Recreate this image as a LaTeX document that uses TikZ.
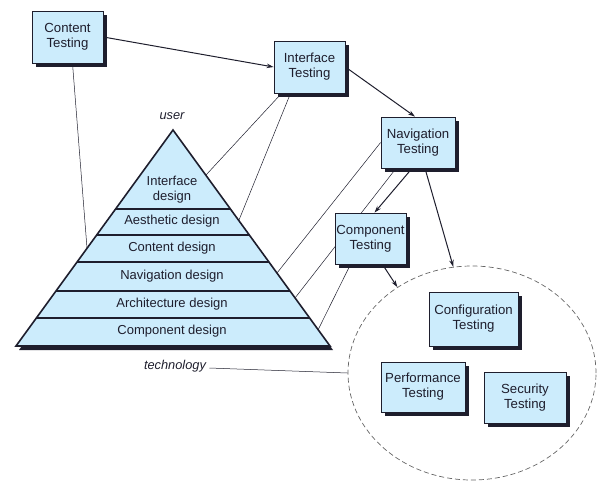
\documentclass[tikz,border=0pt]{standalone}
\usepackage{fontspec}
\setmainfont{Liberation Sans}
\usetikzlibrary{arrows.meta,shadows,shapes.geometric}
\pgfdeclarelayer{back}
\pgfsetlayers{back,main}
\definecolor{boxblue}{RGB}{204,236,252}
\definecolor{ink}{RGB}{30,30,45}

\begin{document}
\begin{tikzpicture}[x=1pt,y=-1pt,
		testbox/.style={draw=ink,fill=boxblue,line width=0.8pt,align=center,inner sep=1pt,text=ink,
			font=\fontsize{13.2}{15}\selectfont,
			general shadow={fill=ink,shadow xshift=4pt,shadow yshift=-4pt}},
		layertext/.style={text=ink,align=center,font=\fontsize{13}{15}\selectfont},
		arr/.style={ink,line width=1pt,-{Stealth[length=7pt,width=4.5pt]}},
		link/.style={ink,line width=0.5pt}]
				\useasboundingbox (0,0) rectangle (609,493);
				% technology circle
				\node[ellipse,draw=gray!80!black,line width=0.7pt,dash pattern=on 5pt off 3pt,inner sep=0pt,
					minimum width=248pt,minimum height=214pt] (tech) at (472,373) {};
				% testing boxes
				\node[testbox,minimum width=71pt,minimum height=52pt] (content) at (67.5,37) {Content\\Testing};
				\node[testbox,minimum width=71pt,minimum height=52pt] (iface) at (309.5,67) {Interface\\Testing};
				\node[testbox,minimum width=74pt,minimum height=51pt] (nav) at (418,142.5) {Navigation\\Testing};
				\node[testbox,minimum width=71pt,minimum height=51pt] (comp) at (370.5,238.5) {Component\\Testing};
				\node[testbox,minimum width=89pt,minimum height=54pt] (config) at (473.5,319) {Configuration\\Testing};
				\node[testbox,minimum width=84pt,minimum height=50pt] (perf) at (423,387) {Performance\\Testing};
				\node[testbox,minimum width=82pt,minimum height=51pt] (secur) at (525,397.5) {Security\\Testing};
				% pyramid
				\coordinate (apex) at (173,130);
				\coordinate (baseL) at (16,346);
				\coordinate (baseR) at (330,346);
				\fill[ink] ([shift={(3,4)}]apex) -- ([shift={(3,4)}]baseL) -- ([shift={(3,4)}]baseR) -- cycle;
				\draw[ink,fill=boxblue,line width=1.6pt,line join=miter] (apex) -- (baseL) -- (baseR) -- cycle;
				\foreach \y in {209,235,262,291,318}
					\draw[ink,line width=1.6pt] ({173-(\y-130)*0.7269},\y) -- ({173+(\y-130)*0.7269},\y);
				\node[layertext] (ldesign) at (172,190) {Interface\\design};
				\node[layertext] (adesign) at (172,221) {Aesthetic design};
				\node[layertext] (cdesign) at (172,248) {Content design};
				\node[layertext] (ndesign) at (172,276) {Navigation design};
				\node[layertext] (rdesign) at (172,304) {Architecture design};
				\node[layertext] (mdesign) at (172,331) {Component design};
				\node[layertext,font=\fontsize{12.8}{15}\selectfont\itshape] (user) at (172,116) {user};
				\node[layertext,font=\fontsize{12.8}{15}\selectfont\itshape] (techlbl) at (175,366) {technology};
				% points on the pyramid sides
				\coordinate (pContent) at (87,248);
				\coordinate (pIface) at (206,175);
				\coordinate (pAesth) at (239,220);
				\coordinate (pNav) at (277,273);
				\coordinate (pArch) at (295,298);
				\coordinate (pComp) at (318,330);
				\begin{pgfonlayer}{back}
				\draw[link] ([xshift=5pt]content.south) -- (pContent);
				\draw[link] ([xshift=-28pt]iface.south) -- (pIface);
				\draw[link] ([xshift=-19pt]iface.south) -- (pAesth);
				\draw[link] (nav.west) -- (pNav);
				\draw[link] ([xshift=-22pt]nav.south) -- (pArch);
				\draw[link] ([xshift=-20pt]comp.south) -- (pComp);
				\end{pgfonlayer}
				\draw[link] ([yshift=-2pt]techlbl.east) -- (tech.west);
				% flow of testing
				\draw[arr] (content.east) -- (iface.west);
				\draw[arr] (iface.east) -- ([xshift=-3pt]nav.north);
				\draw[arr] ([xshift=-6pt]nav.south) -- ([xshift=4pt]comp.north);
				\draw[arr] ([xshift=7pt]nav.south) -- (tech.100);
				\draw[arr] ([xshift=12pt]comp.south) -- (tech.131);
\end{tikzpicture}
\end{document}
